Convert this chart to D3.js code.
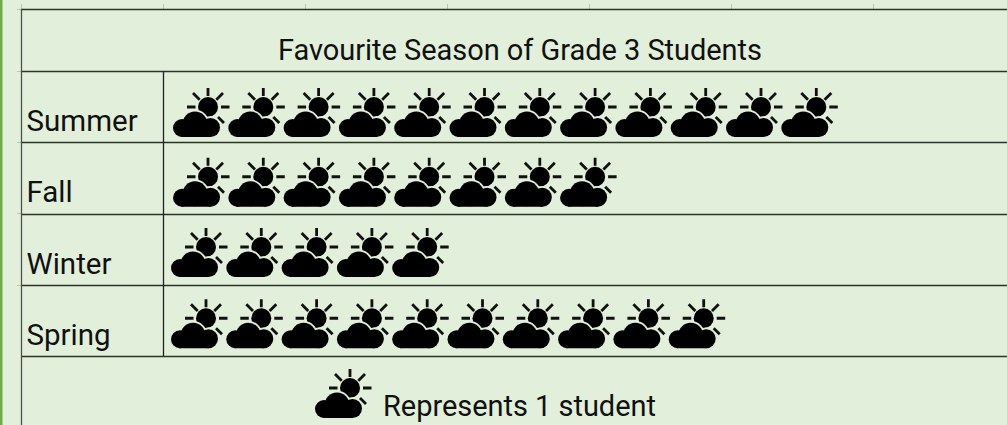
<!DOCTYPE html>
<html><head><meta charset="utf-8">
<style>html,body{margin:0;padding:0;background:#e2efda;overflow:hidden}svg{display:block}text{font-family:Roboto,sans-serif;fill:#111}</style>
<script src="https://cdn.jsdelivr.net/npm/d3@7"></script></head><body>
<svg id="c" width="1007" height="425"></svg>
<script>
const title = "Favourite Season of Grade 3 Students";
const categories = ["Summer","Fall","Winter","Spring"];
const counts = [12,8,5,10];
const legendText = "Represents 1 student";

const svg = d3.select("#c");
const W = 1007, H = 425, BG = "#e2efda";
svg.append("rect").attr("width",W).attr("height",H).attr("fill",BG);
svg.append("rect").attr("width",2.5).attr("height",H).attr("fill","#70ad47");

const y = d3.scaleBand().domain(categories).range([71,356]);
const x = d3.scaleLinear().domain([0,1]).range([173,228.3]);

const stubs=[21,163,305,447,589,731,873];
svg.selectAll(".st").data(stubs).join("line").attr("x1",d=>d+.5).attr("x2",d=>d+.5).attr("y1",4).attr("y2",9).attr("stroke","#b9c2b3");
svg.selectAll(".sl").data([9,71,142,213,285]).join("line").attr("x1",17).attr("x2",21).attr("y1",d=>d+.5).attr("y2",d=>d+.5).attr("stroke","#b9c2b3");

const hl=[9,71,142,214,285,356];
svg.selectAll(".hl").data(hl).join("line").attr("x1",21).attr("x2",W).attr("y1",d=>d+.5).attr("y2",d=>d+.5).attr("stroke","#2b332b").attr("stroke-width",1.3);
svg.append("line").attr("x1",21.5).attr("x2",21.5).attr("y1",9).attr("y2",H).attr("stroke","#4a524a").attr("stroke-width",1.3);
svg.append("line").attr("x1",163.5).attr("x2",163.5).attr("y1",71).attr("y2",356).attr("stroke","#222").attr("stroke-width",1.3);

svg.append("text").attr("x",278).attr("y",60).attr("font-size",29).attr("textLength",484).text(title);
svg.selectAll(".lab").data(categories).join("text")
  .attr("x",26.5).attr("y",d=>y(d)+60).attr("font-size",29.5).text(d=>d);

const lobes=[[9,40,9],[22,36,12.5],[37.5,39.5,9.5]];
function cloud(g,fill,sw){
  g.selectAll(null).data(lobes).join("circle").attr("cx",d=>d[0]).attr("cy",d=>d[1]).attr("r",d=>d[2])
    .attr("fill",fill).attr("stroke",sw?fill:"none").attr("stroke-width",sw);
  g.append("rect").attr("x",8).attr("y",36).attr("width",30).attr("height",13).attr("fill",fill).attr("stroke",sw?fill:"none").attr("stroke-width",sw);
}
function icon(g){
  g.append("circle").attr("cx",35).attr("cy",19).attr("r",10).attr("fill","#000");
  g.each(function(){cloud(d3.select(this),BG,3.6);cloud(d3.select(this),"#000",0);});
  g.append("path").attr("stroke","#111").attr("stroke-width",2.8).attr("fill","none")
   .attr("d","M35,0V8 M14,19H22.5 M48,19H56.5 M20,5L26.7,11.7 M50,5L43.3,11.7 M45,29L51,35");
}
const dx = {Summer:0,Fall:0,Winter:-2,Spring:-2};
const dy = {Summer:17,Fall:15.5,Winter:14.5,Spring:14.5};
const rows = svg.selectAll(".row").data(categories).join("g")
  .attr("transform",d=>`translate(${dx[d]},${y(d)+dy[d]})`);
rows.each(function(d,i){
  d3.select(this).selectAll("g").data(d3.range(counts[i])).join("g")
    .attr("transform",k=>`translate(${x(k)},0)`).call(icon);
});
svg.append("g").attr("transform","translate(315,369)").call(icon);
svg.append("text").attr("x",383).attr("y",416).attr("font-size",29).attr("textLength",273).text(legendText);
</script></body></html>
